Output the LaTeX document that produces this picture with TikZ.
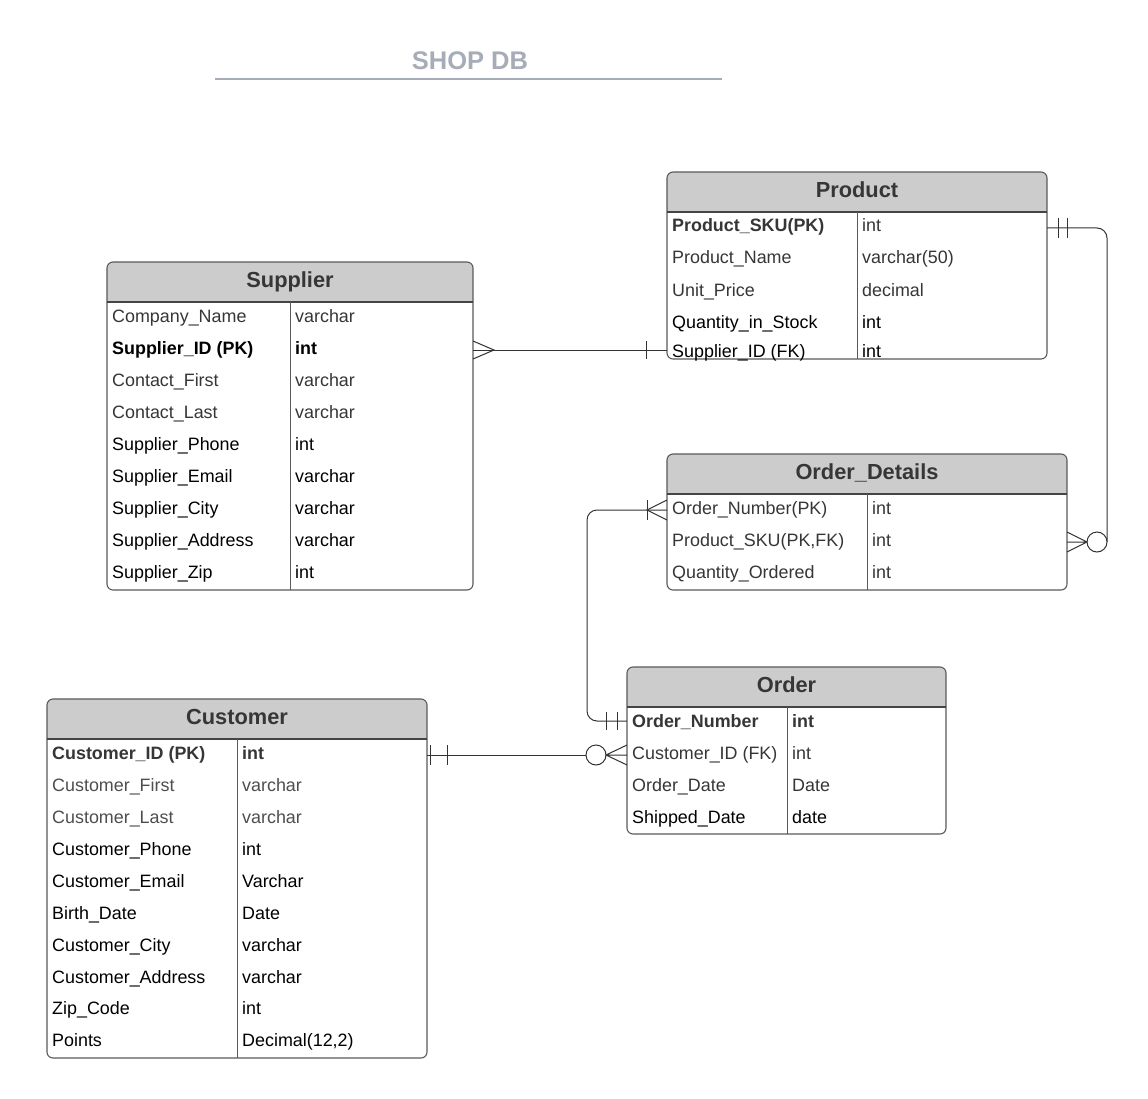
\documentclass[tikz,border=0pt]{standalone}
\usepackage{fontspec}
\setmainfont{Liberation Sans}
\usetikzlibrary{calc}
\definecolor{hdrfill}{HTML}{CCCCCC}
\definecolor{tblline}{HTML}{5A5A5A}
\definecolor{hdrsep}{HTML}{444444}
\definecolor{txtdark}{HTML}{363636}
\definecolor{txtmid}{HTML}{4E4E4E}
\definecolor{titlecol}{HTML}{A7ADB8}
\definecolor{conncol}{HTML}{333333}
\newcommand\rowfont{\fontsize{17.9}{21}\selectfont}
\newcommand\ertable[8]{%
  \begin{scope}
    \clip[rounded corners=6pt] (#2,#3) rectangle (#4,#6);
    \fill[hdrfill] (#2,#3) rectangle (#4,#5);
  \end{scope}
  \node[tblbox, anchor=north west, minimum width={#4pt-#2pt}, minimum height={#6pt-#3pt}] (#1) at (#2,#3) {};
  \draw[hdrline] (#2,#5) -- (#4,#5);
  \draw[divline] (#7,#5) -- (#7,#6);
  \node[hdrtxt] (#1-title) at ({(#2+#4)/2},{#3+25.5}) {#8};
}
\newcommand\errow[7]{%
  \node[rowtxt,#5] (#1) at (#2+5,#4+6) {#6};
  \node[rowtxt,#5] (#1t) at (#3+5,#4+6) {#7};
}
\begin{document}
\begin{tikzpicture}[x=1pt,y=-1pt,
  tblbox/.style={draw=tblline, line width=1.1pt, rounded corners=6pt, inner sep=0pt, outer sep=0pt},
  hdrline/.style={draw=hdrsep, line width=1.1pt},
  divline/.style={draw=tblline, line width=1pt},
  hdrtxt/.style={anchor=base, inner sep=0pt, text=txtdark, font=\fontsize{21.8}{24}\selectfont\bfseries},
  rowtxt/.style={anchor=base west, inner sep=0pt, font=\rowfont, text=black},
  dk/.style={text=txtdark},
  md/.style={text=txtmid},
  bd/.style={font=\rowfont\bfseries},
  conn/.style={draw=conncol, line width=1pt},
  titletxt/.style={anchor=base, inner sep=0pt, text=titlecol, font=\fontsize{25.5}{28}\selectfont\bfseries}
]
\useasboundingbox (0,0) rectangle (1148,1099);
\fill[white] (0,0) rectangle (1148,1099);

% Title
\node[titletxt] (title) at (470,70) {SHOP DB};
\draw[draw=titlecol, line width=2pt] (215,79) -- (722,79);

% Supplier
\ertable{supplier}{107}{262}{473}{302}{590}{290}{Supplier}
\errow{sup-r1}{107}{290}{316}{dk}{Company\_Name}{varchar}
\errow{sup-r2}{107}{290}{348}{bd}{Supplier\_ID (PK)}{int}
\errow{sup-r3}{107}{290}{380}{dk}{Contact\_First}{varchar}
\errow{sup-r4}{107}{290}{412}{dk}{Contact\_Last}{varchar}
\errow{sup-r5}{107}{290}{444}{}{Supplier\_Phone}{int}
\errow{sup-r6}{107}{290}{476}{}{Supplier\_Email}{varchar}
\errow{sup-r7}{107}{290}{508}{}{Supplier\_City}{varchar}
\errow{sup-r8}{107}{290}{540}{}{Supplier\_Address}{varchar}
\errow{sup-r9}{107}{290}{572}{}{Supplier\_Zip}{int}

% Product
\ertable{product}{667}{172}{1047}{212}{359}{857}{Product}
\errow{prd-r1}{667}{857}{226}{bd,dk}{Product\_SKU(PK)}{}
\node[rowtxt,dk] (prd-r1t) at (862,232) {int};
\errow{prd-r2}{667}{857}{258}{dk}{Product\_Name}{varchar(50)}
\errow{prd-r3}{667}{857}{290}{dk}{Unit\_Price}{decimal}
\errow{prd-r4}{667}{857}{322}{}{Quantity\_in\_Stock}{int}
\errow{prd-r5}{667}{857}{351}{}{Supplier\_ID (FK)}{int}

% Order_Details
\ertable{orderdet}{667}{454}{1067}{494}{590}{867}{Order\_Details}
\errow{od-r1}{667}{867}{508}{dk}{Order\_Number(PK)}{int}
\errow{od-r2}{667}{867}{540}{dk}{Product\_SKU(PK,FK)}{int}
\errow{od-r3}{667}{867}{572}{dk}{Quantity\_Ordered}{int}

% Order
\ertable{order}{627}{667}{946}{707}{834}{787}{Order}
\errow{ord-r1}{627}{787}{721}{bd,dk}{Order\_Number}{int}
\errow{ord-r2}{627}{787}{753}{dk}{Customer\_ID (FK)}{int}
\errow{ord-r3}{627}{787}{785}{dk}{Order\_Date}{Date}
\errow{ord-r4}{627}{787}{817}{}{Shipped\_Date}{date}

% Customer
\ertable{customer}{47}{699}{427}{739}{1058}{237}{Customer}
\errow{cus-r1}{47}{237}{753}{bd,dk}{Customer\_ID (PK)}{int}
\errow{cus-r2}{47}{237}{785}{md}{Customer\_First}{varchar}
\errow{cus-r3}{47}{237}{817}{md}{Customer\_Last}{varchar}
\errow{cus-r4}{47}{237}{849}{}{Customer\_Phone}{int}
\errow{cus-r5}{47}{237}{881}{}{Customer\_Email}{Varchar}
\errow{cus-r6}{47}{237}{913}{}{Birth\_Date}{Date}
\errow{cus-r7}{47}{237}{945}{}{Customer\_City}{varchar}
\errow{cus-r8}{47}{237}{977}{}{Customer\_Address}{varchar}
\errow{cus-r9}{47}{237}{1008}{}{Zip\_Code}{int}
\errow{cus-r10}{47}{237}{1040}{}{Points}{Decimal(12,2)}

% Connector A: Supplier -- Product
\coordinate (a1) at (supplier.east |- 0,350);
\coordinate (a2) at (product.west |- 0,350);
\draw[conn] (a1) -- (a2);
\draw[conn] ($(a1)+(0,-9)$) -- ($(a1)+(21,0)$) -- ($(a1)+(0,9)$);
\draw[conn] ($(a2)+(-21,-9)$) -- ($(a2)+(-21,9)$);

% Connector B: Product -- Order_Details
\coordinate (b1) at (product.east |- 0,228);
\coordinate (b2) at (orderdet.east |- 0,542);
\coordinate (b3) at ($(b2)+(40,0)$);
\draw[conn, rounded corners=10pt] (b1) -- (b3 |- b1) -- (b3);
\draw[conn, fill=white] ($(b2)+(30,0)$) circle[radius=10pt];
\draw[conn] ($(b2)+(0,-10)$) -- ($(b2)+(20,0)$) -- ($(b2)+(0,10)$) (b2) -- ($(b2)+(20,0)$);
\draw[conn] ($(b1)+(11,-10)$) -- ($(b1)+(11,10)$) ($(b1)+(20,-10)$) -- ($(b1)+(20,10)$);

% Connector C: Order -- Order_Details
\coordinate (c1) at (order.west |- 0,721);
\coordinate (c2) at (orderdet.west |- 0,510);
\coordinate (c3) at ($(c1)+(-40,0)$);
\draw[conn, rounded corners=10pt] (c1) -- (c3) -- (c3 |- c2) -- (c2);
\draw[conn] ($(c1)+(-21,-9)$) -- ($(c1)+(-21,9)$) ($(c1)+(-10,-9)$) -- ($(c1)+(-10,9)$);
\draw[conn] ($(c2)+(0,-10)$) -- ($(c2)+(-20,0)$) -- ($(c2)+(0,10)$);
\draw[conn] ($(c2)+(-20,-10)$) -- ($(c2)+(-20,10)$);

% Connector D: Customer -- Order
\coordinate (d1) at (customer.east |- 0,755);
\coordinate (d2) at (order.west |- 0,755);
\draw[conn] (d1) -- ($(d2)+(-41,0)$);
\draw[conn, fill=white] ($(d2)+(-31,0)$) circle[radius=10pt];
\draw[conn] ($(d2)+(0,-10)$) -- ($(d2)+(-21,0)$) -- ($(d2)+(0,10)$) (d2) -- ($(d2)+(-21,0)$);
\draw[conn] ($(d1)+(3,-10)$) -- ($(d1)+(3,10)$) ($(d1)+(20,-10)$) -- ($(d1)+(20,10)$);
\end{tikzpicture}
\end{document}
